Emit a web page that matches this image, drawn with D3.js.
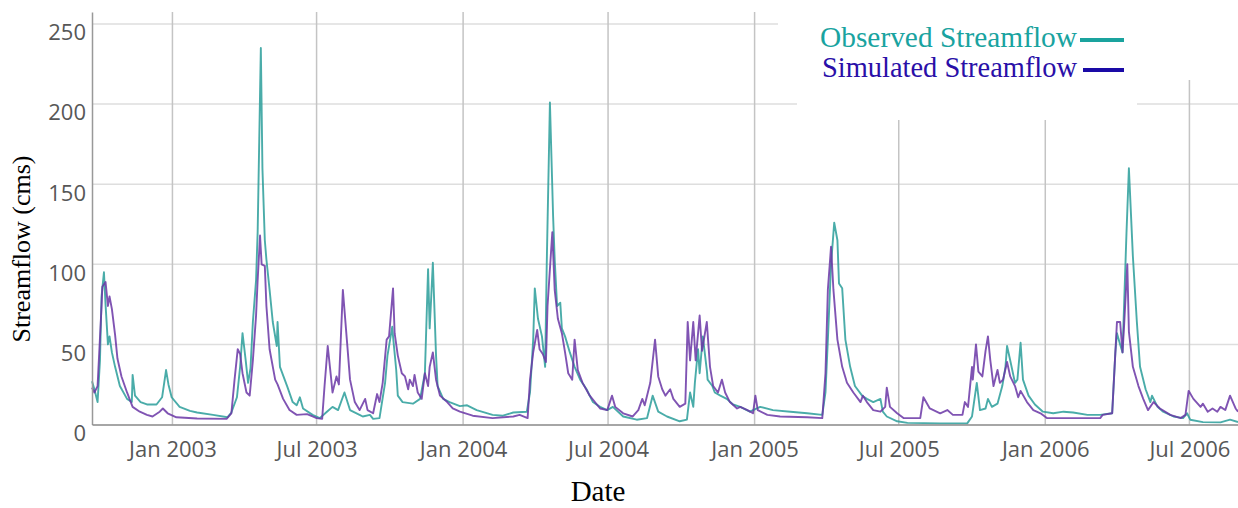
<!DOCTYPE html>
<html>
<head>
<meta charset="utf-8">
<script src="https://cdn.jsdelivr.net/npm/d3@7"></script>
<style>
  html, body { margin: 0; padding: 0; background: #fff; }
  svg { display: block; }
</style>
</head>
<body>
<svg id="chart" width="1238" height="508"></svg>
<script>
// ---------------- DATA ----------------
const obsDates = ["2002-09-22","2002-09-25","2002-09-29","2002-10-02","2002-10-04","2002-10-07","2002-10-09","2002-10-12","2002-10-14","2002-10-17","2002-10-21","2002-10-27","2002-11-05","2002-11-11","2002-11-12","2002-11-15","2002-11-22","2002-11-30","2002-12-12","2002-12-19","2002-12-24","2002-12-27","2002-12-31","2003-01-10","2003-01-23","2003-02-01","2003-02-21","2003-03-11","2003-03-16","2003-03-23","2003-03-27","2003-03-30","2003-04-03","2003-04-06","2003-04-09","2003-04-12","2003-04-16","2003-04-18","2003-04-22","2003-04-24","2003-04-27","2003-04-29","2003-05-03","2003-05-07","2003-05-12","2003-05-13","2003-05-16","2003-05-25","2003-06-01","2003-06-06","2003-06-10","2003-06-14","2003-06-26","2003-07-05","2003-07-14","2003-07-21","2003-07-28","2003-08-05","2003-08-12","2003-08-24","2003-08-28","2003-09-06","2003-09-10","2003-09-18","2003-09-25","2003-09-28","2003-10-04","2003-10-05","2003-10-09","2003-10-11","2003-10-17","2003-10-30","2003-11-08","2003-11-14","2003-11-18","2003-11-20","2003-11-22","2003-11-24","2003-11-28","2003-11-30","2003-12-07","2003-12-15","2003-12-28","2004-01-06","2004-01-18","2004-02-07","2004-02-20","2004-03-04","2004-03-21","2004-03-25","2004-03-29","2004-03-31","2004-04-04","2004-04-09","2004-04-13","2004-04-15","2004-04-19","2004-04-23","2004-04-25","2004-04-28","2004-05-02","2004-05-04","2004-05-08","2004-05-14","2004-05-20","2004-05-27","2004-06-04","2004-06-12","2004-06-21","2004-06-30","2004-07-07","2004-07-20","2004-08-06","2004-08-19","2004-08-26","2004-09-02","2004-09-13","2004-09-29","2004-10-08","2004-10-12","2004-10-16","2004-10-18","2004-10-22","2004-10-24","2004-10-28","2004-11-02","2004-11-03","2004-11-09","2004-11-12","2004-11-19","2004-11-27","2004-12-05","2004-12-14","2004-12-26","2005-01-08","2005-01-24","2005-02-15","2005-03-08","2005-03-27","2005-03-31","2005-04-03","2005-04-07","2005-04-11","2005-04-15","2005-04-17","2005-04-21","2005-04-25","2005-05-01","2005-05-07","2005-05-16","2005-05-22","2005-05-30","2005-06-08","2005-06-11","2005-06-16","2005-06-29","2005-07-12","2005-08-22","2005-09-25","2005-10-01","2005-10-07","2005-10-11","2005-10-18","2005-10-21","2005-10-26","2005-11-02","2005-11-08","2005-11-12","2005-11-14","2005-11-18","2005-11-24","2005-11-27","2005-12-01","2005-12-04","2005-12-11","2005-12-19","2005-12-29","2006-01-11","2006-01-24","2006-02-05","2006-02-23","2006-03-11","2006-03-26","2006-03-30","2006-04-01","2006-04-05","2006-04-08","2006-04-13","2006-04-16","2006-04-21","2006-04-26","2006-04-30","2006-05-07","2006-05-13","2006-05-15","2006-05-22","2006-05-29","2006-06-11","2006-06-23","2006-06-28","2006-07-02","2006-07-18","2006-08-09","2006-08-21","2006-08-31"];
const obsValues = [27,22,14,40,80,95,75,50,55,45,36,24,16,14,31,18,14,12.5,12.5,17,34,25,17,11,8.5,7.5,6,4.5,7.5,17,36,57,40,26,35,64,90,120,235,160,115,103,84,64,49,64,36,24,14,12,17,10,6,4,8,11,9,20,9,6,5,6,3.5,4,26,43,61,55,34,18,14,13,16,32,97,60,80,101,43,24,16,14,11.5,12,9,6,5.5,7.5,8,20,53,85,66,55,36,100,201,130,103,74,76,60,55,45,36,28,22,14,11,9,11,5,3,4,18,8,5,2,3,20,11,26,47,32,55,34,28,24,20,18,16,12.5,11,8,11,9,8,7,6,20,53,100,126,115,88,85,53,36,24,18,16,14,16,8,5,2,1,0.7,0.7,5,26,9,10,16,11,13,24,36,49,40,26,28,51,28,18,12.5,8,7,8,7.5,6,6,7,45,57,50,45,120,160,105,64,36,22,14,18,11,8,5,4,7,3,1.5,1.3,3,1.5];

const simDates = ["2002-09-22","2002-09-25","2002-09-29","2002-10-04","2002-10-05","2002-10-09","2002-10-12","2002-10-14","2002-10-17","2002-10-21","2002-10-24","2002-10-29","2002-11-05","2002-11-12","2002-11-21","2002-11-30","2002-12-07","2002-12-16","2002-12-20","2002-12-26","2003-01-06","2003-02-01","2003-03-10","2003-03-16","2003-03-20","2003-03-24","2003-03-27","2003-03-30","2003-04-04","2003-04-08","2003-04-12","2003-04-16","2003-04-18","2003-04-21","2003-04-23","2003-04-27","2003-04-29","2003-05-03","2003-05-10","2003-05-13","2003-05-20","2003-05-28","2003-06-06","2003-06-19","2003-06-26","2003-07-01","2003-07-08","2003-07-11","2003-07-15","2003-07-19","2003-07-21","2003-07-26","2003-07-29","2003-08-03","2003-08-08","2003-08-12","2003-08-18","2003-08-24","2003-08-31","2003-09-03","2003-09-10","2003-09-15","2003-09-18","2003-09-22","2003-09-27","2003-09-30","2003-10-05","2003-10-07","2003-10-11","2003-10-16","2003-10-20","2003-10-24","2003-10-26","2003-10-30","2003-11-01","2003-11-05","2003-11-10","2003-11-14","2003-11-18","2003-11-20","2003-11-24","2003-11-28","2003-12-03","2003-12-12","2003-12-19","2003-12-28","2004-01-13","2004-02-07","2004-03-04","2004-03-12","2004-03-22","2004-03-25","2004-03-29","2004-04-03","2004-04-06","2004-04-10","2004-04-14","2004-04-16","2004-04-22","2004-04-25","2004-04-29","2004-05-04","2004-05-08","2004-05-12","2004-05-17","2004-05-20","2004-05-24","2004-05-30","2004-06-08","2004-06-21","2004-06-30","2004-07-06","2004-07-10","2004-07-20","2004-08-01","2004-08-08","2004-08-13","2004-08-16","2004-08-23","2004-08-29","2004-09-02","2004-09-07","2004-09-11","2004-09-17","2004-09-21","2004-09-29","2004-10-06","2004-10-09","2004-10-12","2004-10-16","2004-10-19","2004-10-24","2004-10-27","2004-11-02","2004-11-06","2004-11-10","2004-11-16","2004-11-21","2004-11-25","2004-12-01","2004-12-10","2004-12-14","2004-12-23","2004-12-30","2005-01-02","2005-01-05","2005-01-17","2005-02-02","2005-03-08","2005-03-27","2005-03-31","2005-04-03","2005-04-07","2005-04-10","2005-04-15","2005-04-21","2005-04-27","2005-05-05","2005-05-14","2005-05-17","2005-05-22","2005-05-30","2005-06-08","2005-06-14","2005-06-16","2005-06-20","2005-06-29","2005-07-07","2005-07-28","2005-08-01","2005-08-09","2005-08-22","2005-08-31","2005-09-07","2005-09-19","2005-09-22","2005-09-26","2005-10-01","2005-10-02","2005-10-06","2005-10-09","2005-10-14","2005-10-18","2005-10-21","2005-10-24","2005-10-28","2005-11-02","2005-11-05","2005-11-09","2005-11-14","2005-11-18","2005-11-24","2005-11-28","2005-12-01","2005-12-09","2005-12-17","2005-12-26","2006-01-03","2006-01-29","2006-03-11","2006-03-14","2006-03-26","2006-04-01","2006-04-05","2006-04-08","2006-04-10","2006-04-14","2006-04-16","2006-04-21","2006-04-28","2006-05-04","2006-05-10","2006-05-17","2006-05-25","2006-06-07","2006-06-20","2006-06-26","2006-06-30","2006-07-06","2006-07-15","2006-07-18","2006-07-24","2006-07-30","2006-08-05","2006-08-09","2006-08-15","2006-08-21","2006-08-28","2006-08-31"];
const simValues = [23,20,24,74,86,89,74,80,72,56,41,30,20,11,8,6,5,8,10,7,4.5,3.7,3.5,7,28,47,44,32,20,18,40,68,90,118,100,99,74,47,28,25,16,9,6,6.5,5,4,3.5,24,49,30,20,30,25,84,53,28,14,9,16,9,7,19,14,26,53,55,85,57,43,32,30,22,28,24,31,20,16,32,24,36,45,28,18,14,10,8,5.5,4,5,6,4,28,45,59,47,44,39,74,120,84,66,57,45,32,28,53,34,26,18,10,9,18,11,7,5,9,16,12,26,53,30,22,18,22,16,11,13,64,40,64,40,68,46,64,36,24,20,28,20,14,10,11,9,7,18,9,6,5,4.5,4,32,84,111,84,53,36,26,20,14,18,14,9,8,11,23,11,7,4,4,17,10,7,9,6,6,14,11,36,28,50,33,30,46,55,40,24,34,26,28,39,30,24,17,21,14,9,7,4,4,4,6,7,64,64,45,62,100,58,36,24,16,9,14,10,6,4,6,21,16,11,13,8,10,8,11,9,18,10,8];

const yTicks = [0, 50, 100, 150, 200, 250];
const xTickDates = ["2003-01-01","2003-07-01","2004-01-01","2004-07-01","2005-01-01","2005-07-01","2006-01-01","2006-07-01"];
const xTickLabels = ["Jan 2003","Jul 2003","Jan 2004","Jul 2004","Jan 2005","Jul 2005","Jan 2006","Jul 2006"];
const seriesNames = ["Observed Streamflow", "Simulated Streamflow"];
const xDomain = ["2002-09-22", "2006-08-31"];
const yDomain = [0, 257.5];

// ---------------- CHART ----------------
(function () {
const parse = d3.utcParse("%Y-%m-%d");
const svg = d3.select("#chart");
const mLeft = 92, mRight = 1238, mTop = 12, mBottom = 424.5;

const x = d3.scaleUtc().domain(xDomain.map(parse)).range([mLeft, mRight]);
const y = d3.scaleLinear().domain(yDomain).range([mBottom, mTop]);

const obs = obsDates.map((d, i) => ({ date: parse(d), v: obsValues[i] }));
const sim = simDates.map((d, i) => ({ date: parse(d), v: simValues[i] }));

// gridlines
const grid = svg.append("g");
grid.selectAll("line.h").data(yTicks.filter(t => t > 0)).join("line")
  .attr("x1", mLeft).attr("x2", mRight)
  .attr("y1", d => y(d)).attr("y2", d => y(d))
  .attr("stroke", "#dedede").attr("stroke-width", 1.5);
grid.selectAll("line.v").data(xTickDates).join("line")
  .attr("x1", d => x(parse(d))).attr("x2", d => x(parse(d)))
  .attr("y1", mTop).attr("y2", mBottom)
  .attr("stroke", "#c4c4c4").attr("stroke-width", 1.5);

// legend background (covers gridlines)
svg.append("path")
  .attr("d", "M778,0 L1238,0 L1238,80 L1137,80 L1137,120 L797,120 L797,100 L778,100 Z")
  .attr("fill", "#fff");

// lines
const line = d3.line().x(d => x(d.date)).y(d => y(d.v));
svg.append("path").datum(obs).attr("d", line)
  .attr("fill", "none").attr("stroke", "#2a9d9a").attr("stroke-width", 1.9)
  .attr("stroke-opacity", 0.85).attr("stroke-linejoin", "round");
svg.append("path").datum(sim).attr("d", line)
  .attr("fill", "none").attr("stroke", "#6a36a6").attr("stroke-width", 1.9)
  .attr("stroke-opacity", 0.85).attr("stroke-linejoin", "round");

// axes
const yAxis = d3.axisLeft(y).tickValues(yTicks).tickSize(0).tickPadding(6);
const gy = svg.append("g").attr("transform", `translate(${mLeft},0)`).call(yAxis);
gy.select(".domain").attr("stroke", "#999").attr("stroke-width", 1.5);
gy.selectAll("text").attr("font-family", "'Open Sans', sans-serif").attr("font-size", 22)
  .attr("fill", "#575757").attr("dy", "0.72em");

const xAxis = d3.axisBottom(x).tickValues(xTickDates.map(parse))
  .tickFormat((d, i) => xTickLabels[i]).tickSize(0).tickPadding(17);
const gx = svg.append("g").attr("transform", `translate(0,${mBottom})`).call(xAxis);
gx.select(".domain").attr("stroke", "#888").attr("stroke-width", 1.5);
gx.selectAll("text").attr("font-family", "'Open Sans', sans-serif").attr("font-size", 22).attr("fill", "#575757");

// axis titles
svg.append("text").attr("transform", "translate(30,249) rotate(-90)")
  .attr("text-anchor", "middle").attr("font-family", "'Liberation Serif', serif")
  .attr("font-size", 26).attr("fill", "#000").text("Streamflow (cms)");
svg.append("text").attr("x", 598).attr("y", 501)
  .attr("text-anchor", "middle").attr("font-family", "'Liberation Serif', serif")
  .attr("font-size", 29).attr("fill", "#000").text("Date");

// legend
const legColors = ["#1aa39e", "#1a0aa6"];
const legTextColors = ["#19a3a0", "#2a0fa8"];
const legStarts = [820, 822];
const legend = svg.append("g");
seriesNames.forEach((name, i) => {
  const yy = 47 + i * 30;
  legend.append("text").attr("x", legStarts[i]).attr("y", yy)
    .attr("textLength", 1077 - legStarts[i]).attr("lengthAdjust", "spacingAndGlyphs")
    .attr("font-family", "'Liberation Serif', serif").attr("font-size", 29)
    .attr("fill", legTextColors[i]).text(name);
  legend.append("line").attr("x1", i === 0 ? 1080 : 1083).attr("x2", 1124)
    .attr("y1", yy - 7).attr("y2", yy - 7)
    .attr("stroke", legColors[i]).attr("stroke-width", 4);
});
})();
</script>
</body>
</html>
